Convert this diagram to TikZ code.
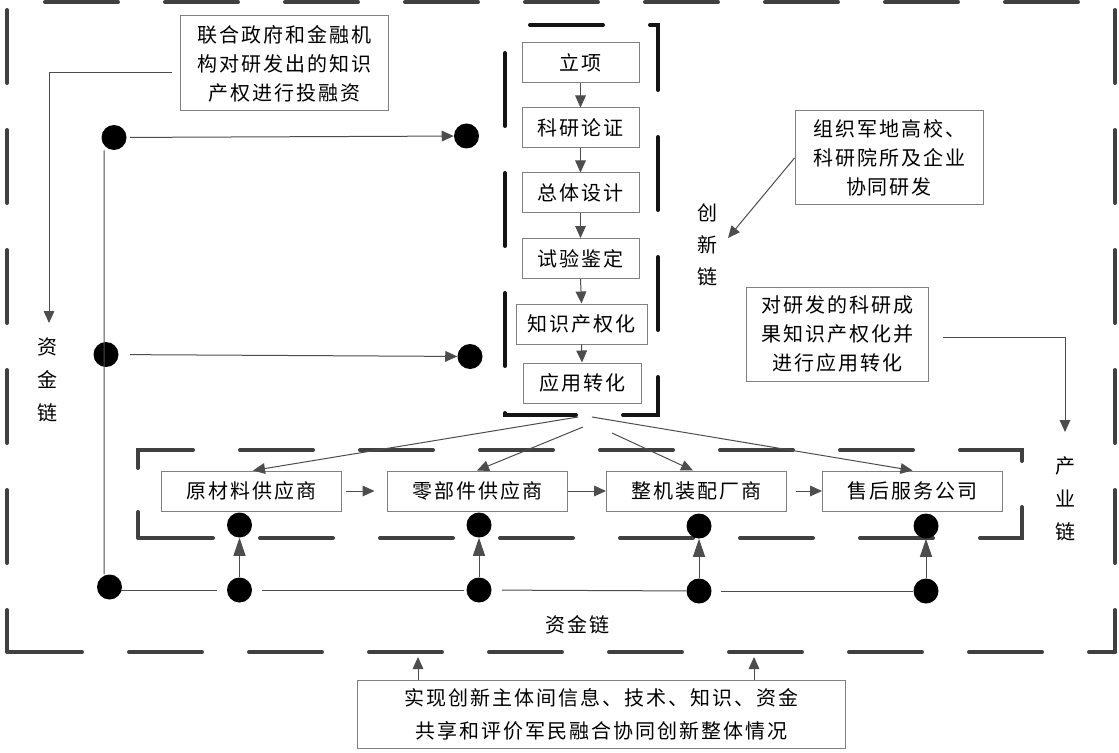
\documentclass[tikz,border=0pt]{standalone}
\usepackage{fontspec}
\newfontfamily\cjk[LetterSpace=10]{Noto Sans CJK SC}
\usetikzlibrary{arrows.meta}
\definecolor{dkgray}{HTML}{404040}
\definecolor{lngray}{HTML}{4D4D4D}
\definecolor{bxgray}{HTML}{808080}
\definecolor{inkblk}{HTML}{141414}
\begin{document}
\begin{tikzpicture}[x=0.75pt,y=-0.75pt,
  txt/.style={font=\cjk\fontsize{15pt}{21.75pt}\selectfont, text=black},
  tbox/.style={txt, draw=bxgray, line width=0.75pt, inner sep=0pt, align=center, fill=white},
  flowbox/.style={tbox, minimum width=87.75pt, minimum height=30pt},
  indbox/.style={tbox, minimum width=135pt, minimum height=30pt},
  notebox/.style={tbox, minimum height=70.5pt},
  blob/.style={circle, fill=black, minimum size=18.75pt, inner sep=0pt},
  ln/.style={draw=lngray, line width=0.75pt},
  arr/.style={ln, -{Triangle[length=9pt,width=8pt]}},
  uparr/.style={ln, -{Triangle[length=13.5pt,width=9pt]}},
  chain/.style={line width=3pt, line cap=round, line join=miter, dash pattern=on 54.75pt off 35.25pt},
  vlabel/.style={txt, align=center, inner sep=0pt, font=\cjk\fontsize{15pt}{24.75pt}\selectfont}
]
\useasboundingbox (0,0) rectangle (1119,752);
\fill[white] (0,0) rectangle (1119,752);

% outer dashed frame
\draw[chain, draw=dkgray] (7,10) -- (7,652);
\draw[chain, draw=dkgray] (9,652) -- (1115,652);
\draw[chain, draw=dkgray] (1115,10) -- (1115,652);
\draw[chain, draw=dkgray] (45,2) -- (1115,2);

% industry chain frame
\draw[chain, draw=dkgray] (138,468) -- (138,450) -- (1022,450) -- (1022,465);
\draw[chain, draw=dkgray] (1022,507) -- (1022,538) -- (138,538);
\draw[chain, draw=dkgray, solid] (138,512) -- (138,538);

% diagonal connectors (start points hidden near the frame)
\coordinate (c1) at (578,417);
\coordinate (c2) at (583,427);
\coordinate (c3) at (612,433);
\coordinate (c4) at (592,417);

% flow boxes
\node[flowbox] (lx) at (580.5,63) {立项};
\node[flowbox] (ky) at (580.5,128) {科研论证};
\node[flowbox] (zt) at (580.5,193) {总体设计};
\node[flowbox] (sy) at (580.5,258.5) {试验鉴定};
\node[flowbox, minimum width=98.25pt] (zs) at (581.5,324) {知识产权化};
\node[flowbox, minimum width=88.5pt] (yy) at (582,383) {应用转化};

% innovation chain frame
\draw[chain, draw=inkblk, dash phase=71.25pt] (505,25) -- (658,25) -- (658,415) -- (505,415) -- cycle;

\draw[arr] (lx.south) -- (ky.north);
\draw[arr] (ky.south) -- (zt.north);
\draw[arr] (zt.south) -- (sy.north);
\draw[arr] (sy.south) -- (zs.north);
\draw[arr] (zs.south) -- (yy.north);

% industry boxes
\node[indbox] (rm) at (251,491) {原材料供应商};
\node[indbox] (lb) at (477,491) {零部件供应商};
\node[indbox] (zj) at (696.5,491) {整机装配厂商};
\node[indbox] (sh) at (912.5,491) {售后服务公司};

\draw[arr, shorten <=3pt, shorten >=9pt] (rm) -- (lb);
\draw[arr] (lb) -- (zj);
\draw[arr, shorten <=6.75pt] (zj) -- (sh);

\draw[arr] (c1) -- ([xshift=1.5pt]rm.north);
\draw[arr] (c2) -- (lb.north);
\draw[arr] (c3) -- ([xshift=-2.6pt]zj.north);
\draw[arr] (c4) -- (sh.north);

% note boxes
\node[notebox, minimum width=156pt, minimum height=71.25pt] (t1) at (284,63.5) {联合政府和金融机\\构对研发出的知识\\产权进行投融资};
\node[notebox, minimum width=141pt] (t2) at (889,158) {组织军地高校、\\科研院所及企业\\协同研发};
\node[notebox, minimum width=136.5pt] (t3) at (837,334) {对研发的科研成\\果知识产权化并\\进行应用转化};
\node[tbox, minimum width=366pt, minimum height=51pt, font=\cjk\fontsize{15pt}{24.75pt}\selectfont] (t4) at (601,714) {实现创新主体间信息、技术、知识、资金\\共享和评价军民融合协同创新整体情况};

% labels
\node[vlabel] (zjl) at (47,380) {资\\金\\链};
\node[vlabel, font=\cjk\fontsize{15pt}{24pt}\selectfont] (cxl) at (707,245) {创\\新\\链};
\node[vlabel] (cyl) at (1065,499) {产\\业\\链};
\node[txt, inner sep=0pt] (zjb) at (577,625) {资金链};

% capital chain dots
\node[blob] (p1) at (114,137.5) {};
\node[blob] (p2) at (466.5,136) {};
\node[blob] (m1) at (106,354.5) {};
\node[blob] (m2) at (470,356.5) {};
\node[blob] (bl) at (109.5,587) {};
\node[blob] (d1) at (239.5,590) {};
\node[blob] (d2) at (479,590) {};
\node[blob] (d3) at (699,591) {};
\node[blob] (d4) at (926,591) {};
\node[blob] (u1) at (239.5,525) {};
\node[blob] (u2) at (479,525) {};
\node[blob] (u3) at (699,526) {};
\node[blob] (u4) at (926,526) {};

\draw[ln] ([xshift=-7.5pt]p1.south) -- ([xshift=-4.1pt]bl.north);
\draw[arr, shorten <=2.6pt] (p1) -- (p2);
\draw[arr, shorten <=8.6pt] (m1) -- (m2);
\draw[ln, shorten >=7pt] ([xshift=-1pt]bl.east |- d1) -- (d1);
\draw[ln, shorten <=7pt, shorten >=2pt] (d1) -- (d2);
\draw[ln, shorten <=7.5pt] (d2) -- (d3);
\draw[ln, shorten <=7pt] (d3) -- (d4);
\draw[uparr] (d1) -- (u1);
\draw[uparr] (d2) -- (u2);
\draw[uparr] (d3) -- (u3);
\draw[uparr] (d4) -- (u4);

% note connectors
\coordinate (a1) at (49,323);
\draw[arr] ([shift={(-8,9.2)}]t1.west) -| (a1);
\coordinate (a2) at (728,238);
\draw[arr] (t2.west) -- (a2);
\coordinate (a3) at (1065,432);
\draw[arr] ([shift={(14,3)}]t3.east) -| (a3);
\coordinate (b1) at (418,657);
\coordinate (b2) at (754,657);
\draw[arr] (t4.north -| b1) -- (b1);
\draw[arr] (t4.north -| b2) -- (b2);
\end{tikzpicture}
\end{document}
